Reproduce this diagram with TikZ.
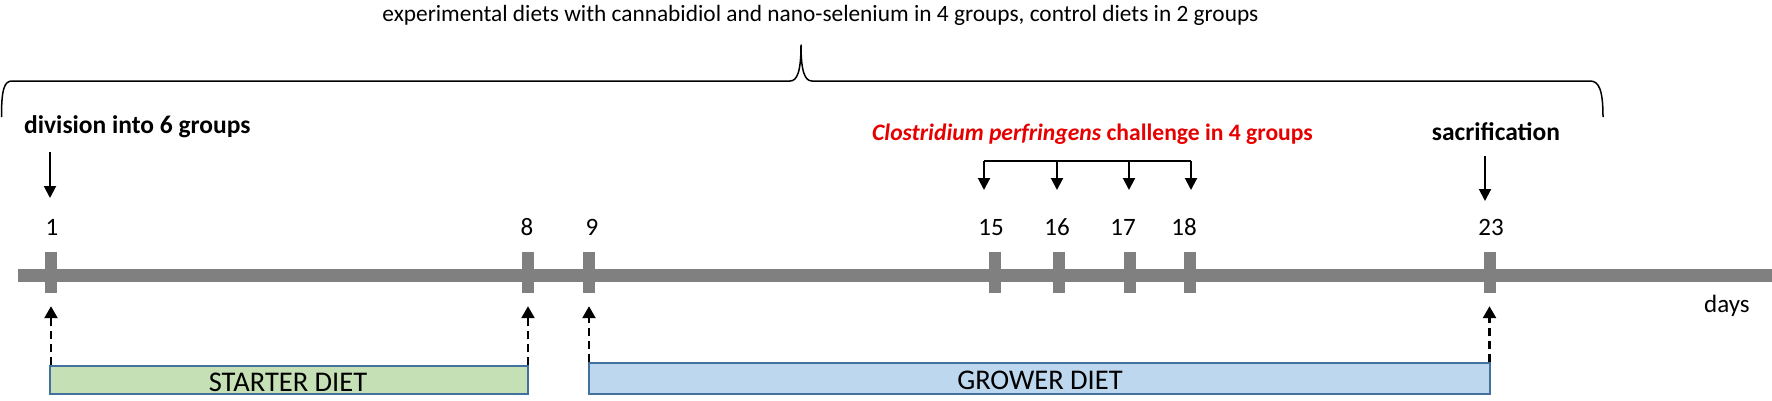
\documentclass[tikz,border=0pt]{standalone}
\usepackage{fontspec}
\setmainfont{Carlito}
\usetikzlibrary{arrows.meta}
\definecolor{tl}{HTML}{808080}
\definecolor{gfill}{HTML}{C5E0B4}
\definecolor{bfill}{HTML}{BDD7EE}
\definecolor{bord}{HTML}{41719C}
\definecolor{cred}{HTML}{E60000}
\begin{document}
\begin{tikzpicture}[x=1pt,y=-1pt,
  tick/.style={fill=tl, draw=none, minimum width=12pt, minimum height=41pt, inner sep=0pt},
  num/.style={font=\fontsize{25}{30}\selectfont, anchor=base, inner sep=0pt},
  lbl/.style={font=\fontsize{25.5}{30}\selectfont\bfseries, anchor=base, inner sep=0pt},
  diet/.style={draw=bord, line width=1.5pt, inner sep=0pt},
  dtext/.style={font=\fontsize{28.5}{32}\selectfont, anchor=base, inner sep=0pt},
  arr/.style={line width=2pt, -{Triangle[length=12pt,width=12pt]}},
  darr/.style={line width=2.5pt, dash pattern=on 8pt off 5pt, -{Triangle[length=12pt,width=13pt]}},
  brace/.style={line width=1.5pt, line join=round}
]
\useasboundingbox (0,0) rectangle (1772,400);

% top label and brace
\node[font=\fontsize{23.35}{28}\selectfont, anchor=base, inner sep=0pt] (top) at (820.5,21.7)
  {experimental diets with cannabidiol and nano-selenium in 4 groups, control diets in 2 groups};
\draw[brace] (1.5,117) .. controls (1.5,90) and (4,81) .. (12,81) -- (790,81)
  .. controls (797,81) and (801,72) .. (801,45)
  .. controls (801,72) and (805,81) .. (812,81) -- (1590,81)
  .. controls (1599,81) and (1603,90) .. (1603,117);

% timeline
\draw[tl, line width=13pt] (18,275.5) -- (1772,275.5);
\node[tick] (t1)  at (51,272.5) {};
\node[tick] (t8)  at (528,272.5) {};
\node[tick] (t9)  at (589,272.5) {};
\node[tick] (t15) at (995,272.5) {};
\node[tick] (t16) at (1059,272.5) {};
\node[tick] (t17) at (1130,272.5) {};
\node[tick] (t18) at (1190,272.5) {};
\node[tick] (t23) at (1489.5,272.5) {};

% day numbers
\node[num] (n1)  at (52,235.5) {1};
\node[num] (n8)  at (527,235.5) {8};
\node[num] (n9)  at (592,235.5) {9};
\node[num] (n15) at (991,235.5) {15};
\node[num] (n16) at (1057,235.5) {16};
\node[num] (n17) at (1123,235.5) {17};
\node[num] (n18) at (1184,235.5) {18};
\node[num] (n23) at (1491,235.5) {23};
\node[num, anchor=base west] (days) at (1704,312) {days};

% events
\node[lbl, anchor=base west] (div) at (24,133) {division into 6 groups};
\coordinate (dv1) at (50,152);
\coordinate (dv2) at (50,198);
\draw[arr] (dv1) -- (dv2);

\node[lbl, font=\fontsize{23.6}{28}\selectfont\bfseries, text=cred] (clos) at (1092.5,140)
  {\textit{Clostridium perfringens} challenge in 4 groups};
\coordinate (c1) at (984,161);
\coordinate (c2) at (1057,161);
\coordinate (c3) at (1129,161);
\coordinate (c4) at (1191,161);
\draw[line width=2pt] (c1) -- (c4);
\draw[arr] (c1) -- ++(0,29);
\draw[arr] (c2) -- ++(0,29);
\draw[arr] (c3) -- ++(0,29);
\draw[arr] (c4) -- ++(0,29);

\node[lbl] (sac) at (1496,140.5) {sacrification};
\coordinate (s1) at (1485,156);
\coordinate (s2) at (1485,201);
\draw[arr] (s1) -- (s2);

% diets
\node[diet, fill=gfill, minimum width=478pt, minimum height=28pt] (starter) at (289,380) {};
\node[dtext] (starterlbl) at (288,391) {STARTER DIET};
\node[diet, fill=bfill, minimum width=901pt, minimum height=31pt] (grower) at (1039.5,378.5) {};
\node[dtext] (growerlbl) at (1040,389.5) {GROWER DIET};

\draw[darr] (starter.north west -| t1) -- ([yshift=-13pt]t1.south);
\draw[darr] (starter.north east -| t8) -- ([yshift=-13pt]t8.south);
\draw[darr] (grower.north west -| t9) -- ([yshift=-13pt]t9.south);
\draw[darr] (grower.north east -| t23) -- ([yshift=-13pt]t23.south);
\end{tikzpicture}
\end{document}
